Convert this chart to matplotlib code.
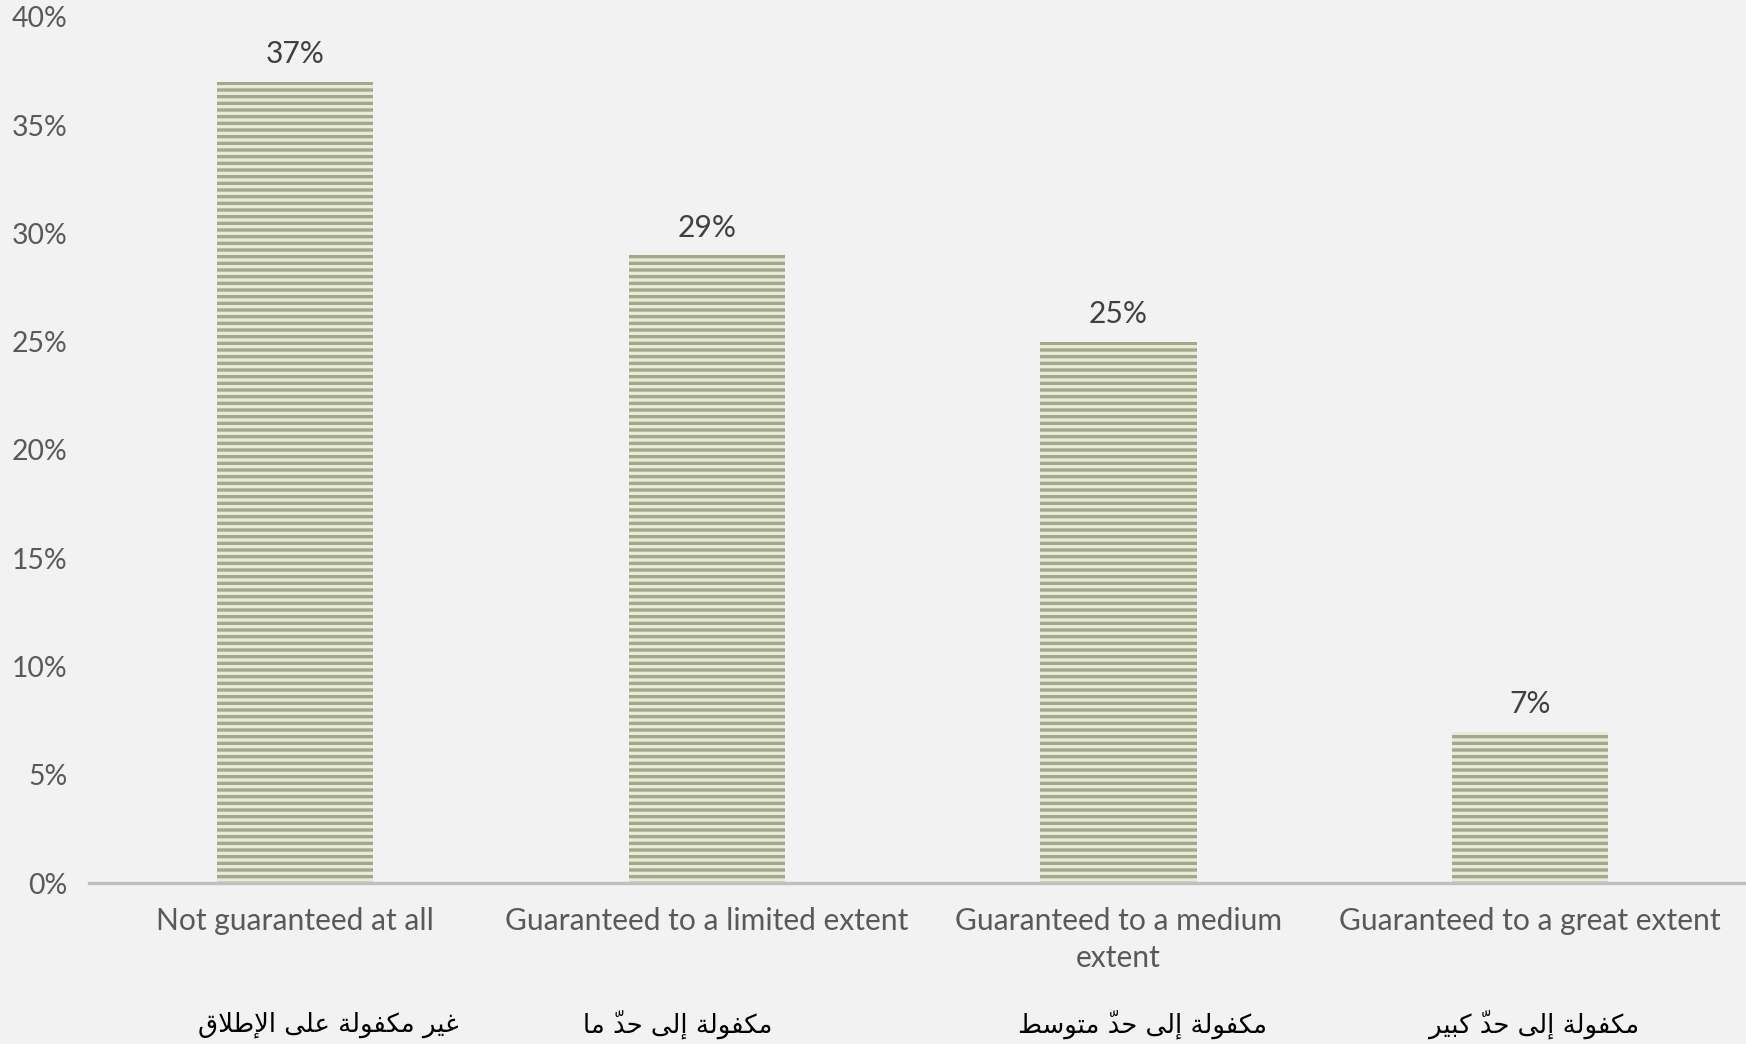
import matplotlib
matplotlib.use('Agg')
import matplotlib.pyplot as plt
from matplotlib.ticker import PercentFormatter

categories = ['Not guaranteed at all', 'Guaranteed to a limited extent',
              'Guaranteed to a medium\nextent', 'Guaranteed to a great extent']
categories_ar = ['غير مكفولة على الإطلاق', 'مكفولة إلى حدّ ما',
                 'مكفولة إلى حدّ متوسط', 'مكفولة إلى حدّ كبير']
values = [0.37, 0.29, 0.25, 0.07]
yticks = [0, 0.05, 0.10, 0.15, 0.20, 0.25, 0.30, 0.35, 0.40]

# presentation forms: (isolated, final, initial, medial); None = no left join
FORMS = {
    'ا': ('\uFE8D', '\uFE8E', None, None),
    'إ': ('\uFE87', '\uFE88', None, None),
    'ب': ('\uFE8F', '\uFE90', '\uFE91', '\uFE92'),
    'ة': ('\uFE93', '\uFE94', None, None),
    'ت': ('\uFE95', '\uFE96', '\uFE97', '\uFE98'),
    'ح': ('\uFEA1', '\uFEA2', '\uFEA3', '\uFEA4'),
    'د': ('\uFEA9', '\uFEAA', None, None),
    'ر': ('\uFEAD', '\uFEAE', None, None),
    'س': ('\uFEB1', '\uFEB2', '\uFEB3', '\uFEB4'),
    'ط': ('\uFEC1', '\uFEC2', '\uFEC3', '\uFEC4'),
    'ع': ('\uFEC9', '\uFECA', '\uFECB', '\uFECC'),
    'غ': ('\uFECD', '\uFECE', '\uFECF', '\uFED0'),
    'ف': ('\uFED1', '\uFED2', '\uFED3', '\uFED4'),
    'ق': ('\uFED5', '\uFED6', '\uFED7', '\uFED8'),
    'ك': ('\uFED9', '\uFEDA', '\uFEDB', '\uFEDC'),
    'ل': ('\uFEDD', '\uFEDE', '\uFEDF', '\uFEE0'),
    'م': ('\uFEE1', '\uFEE2', '\uFEE3', '\uFEE4'),
    'و': ('\uFEED', '\uFEEE', None, None),
    'ى': ('\uFEEF', '\uFEF0', None, None),
    'ي': ('\uFEF1', '\uFEF2', '\uFEF3', '\uFEF4'),
    'لا': ('\uFEFB', '\uFEFC', None, None),
    'لإ': ('\uFEF9', '\uFEFA', None, None),
}
MARKS = '\u0651'


def shape(text):
    # split into clusters (letter + marks), merge lam-alef
    clusters = []
    i = 0
    while i < len(text):
        c = text[i]
        if c == 'ل' and i + 1 < len(text) and text[i + 1] in 'اإ':
            c = text[i:i + 2]
            i += 1
        marks = ''
        while i + 1 < len(text) and text[i + 1] in MARKS:
            marks += text[i + 1]
            i += 1
        clusters.append([c, marks])
        i += 1
    out = []
    for k, (c, marks) in enumerate(clusters):
        if c not in FORMS:
            out.append(c + marks)
            continue
        prev = clusters[k - 1][0] if k > 0 else ' '
        nxt = clusters[k + 1][0] if k + 1 < len(clusters) else ' '
        join_prev = prev in FORMS and FORMS[prev][2] is not None
        join_next = nxt in FORMS and FORMS[c][2] is not None
        f = FORMS[c]
        if join_prev and join_next:
            g = f[3]
        elif join_prev:
            g = f[1]
        elif join_next:
            g = f[2]
        else:
            g = f[0]
        out.append(g + marks)
    # visual order: mark goes before its letter so it lands on it
    return ''.join(reversed(''.join(out)))


def main():
    plt.rcParams['font.family'] = ['Lato', 'DejaVu Sans']
    fig = plt.figure(figsize=(14.55, 8.7), dpi=120, facecolor='#f2f2f2')
    ax = fig.add_axes([0.0512, 0.154, 0.9488, 0.83], facecolor='#f2f2f2')

    plt.rcParams['hatch.color'] = '#a3a886'
    plt.rcParams['hatch.linewidth'] = 2.0
    x = range(len(values))
    ax.bar(x, values, width=0.38, color='#e8eadc', hatch='---',
           edgecolor='#a3a886', linewidth=0)

    for xi, v in zip(x, values):
        ax.annotate('{:.0%}'.format(v), (xi, v), xytext=(0, 8),
                    textcoords='offset points', ha='center', va='bottom',
                    fontsize=18, color='#404040')

    # axis line runs a bit past the last category
    ax.set_xlim(-0.5, len(values) - 0.476)
    ax.set_ylim(0, 0.40)
    ax.set_yticks(yticks)
    ax.yaxis.set_major_formatter(PercentFormatter(1.0, decimals=0))
    ax.set_xticks(list(x))
    ax.set_xticklabels(categories, linespacing=1.4)
    ax.tick_params(axis='both', length=0, labelsize=18, labelcolor='#595959')
    ax.tick_params(axis='y', pad=13, labelsize=17)
    ax.tick_params(axis='x', pad=14)
    for side in ['top', 'right', 'left']:
        ax.spines[side].set_visible(False)
    ax.spines['bottom'].set_color('#bfbfbf')
    ax.spines['bottom'].set_linewidth(2)

    ar_shift = [0.08, -0.07, 0.057, 0.01]
    for xi, lab, dx in zip(x, categories_ar, ar_shift):
        ax.text(xi + dx, -0.163, shape(lab), transform=ax.get_xaxis_transform(),
                ha='center', va='center', fontsize=15.5, color='black',
                family='DejaVu Sans')

    fig.savefig('out.png', dpi=120, facecolor=fig.get_facecolor())


if __name__ == '__main__':
    main()
